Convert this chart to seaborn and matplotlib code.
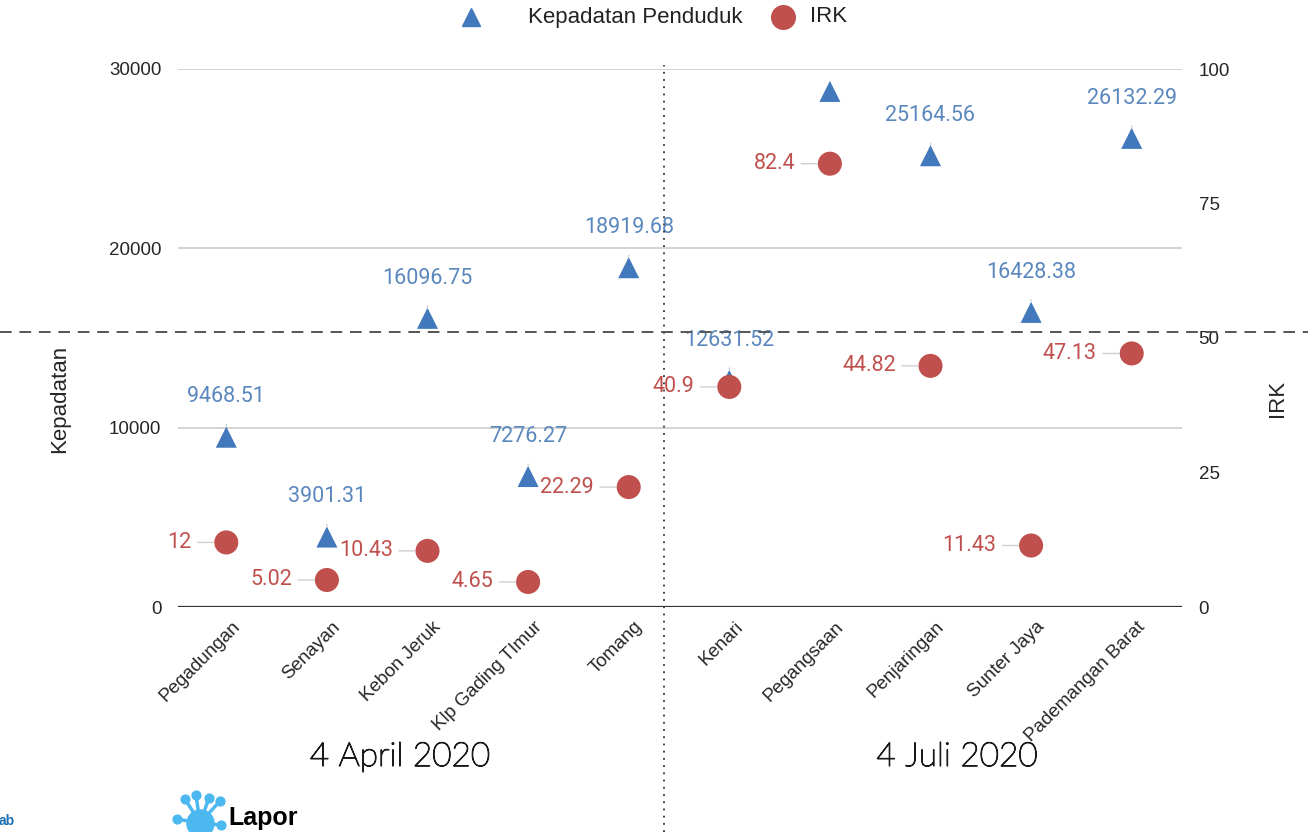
import matplotlib.pyplot as plt
import matplotlib.lines as mlines
import matplotlib.transforms as mtrans
import matplotlib.patheffects as pe
import seaborn as sns
import pandas as pd

# data
kelurahan = ['Pegadungan', 'Senayan', 'Kebon Jeruk', 'Klp Gading TImur', 'Tomang',
             'Kenari', 'Pegangsaan', 'Penjaringan', 'Sunter Jaya', 'Pademangan Barat']
kepadatan = [9468.51, 3901.31, 16096.75, 7276.27, 18919.68,
             12631.52, 28750.0, 25164.56, 16428.38, 26132.29]
kepadatan_label = ['9468.51', '3901.31', '16096.75', '7276.27', '18919.68',
                   '12631.52', '', '25164.56', '16428.38', '26132.29']
irk = [12, 5.02, 10.43, 4.65, 22.29, 40.9, 82.4, 44.82, 11.43, 47.13]
irk_label = ['12', '5.02', '10.43', '4.65', '22.29', '40.9', '82.4', '44.82', '11.43', '47.13']
left_ticks = [0, 10000, 20000, 30000]
right_ticks = [0, 25, 50, 75, 100]

BLUE = '#4279bd'
BLUE_TXT = '#5a87bd'
RED = '#c0504d'
RED_TXT = '#c0504d'

sns.set_style('white')
plt.rcParams['font.family'] = ['Liberation Sans', 'DejaVu Sans']

df = pd.DataFrame({'kelurahan': kelurahan, 'pos': range(len(kelurahan)),
                   'kepadatan': kepadatan, 'irk': irk})

fig = plt.figure(figsize=(13.08, 8.32), dpi=100)
ax = fig.add_axes([178 / 1308, 1 - 607 / 832, 1004 / 1308, 538 / 832])
ax2 = ax.twinx()

sns.scatterplot(data=df, x='pos', y='kepadatan', marker='^', s=230, color=BLUE,
                edgecolor='none', ax=ax, zorder=3, legend=False)
sns.scatterplot(data=df, x='pos', y='irk', marker='o', s=300, color=RED,
                edgecolor='none', ax=ax2, zorder=3, legend=False)

ax.set_xlim(-0.48, 9.5)
ax.set_ylim(0, 30000)
ax2.set_ylim(0, 100)
ax.set_yticks(left_ticks)
ax.set_yticklabels([str(t) for t in left_ticks], fontsize=13.5)
ax2.set_yticks(right_ticks)
ax2.set_yticklabels([str(t) for t in right_ticks], fontsize=13.5)
ax.yaxis.grid(True, color='#cccccc', lw=1.2)
ax.set_axisbelow(True)
ax.tick_params(axis='y', length=0, pad=12)
ax2.tick_params(axis='y', length=0, pad=12)
for a in (ax, ax2):
    for s in a.spines.values():
        s.set_visible(False)
ax.axhline(0, color='#333333', lw=1.6, zorder=2)

ax.set_xticks(range(len(kelurahan)))
ax.set_xticklabels(kelurahan, rotation=45, ha='right', rotation_mode='anchor', fontsize=13.5)
ax.tick_params(axis='x', length=0, pad=8)
shift = mtrans.ScaledTranslation(5 / 100, 0, fig.dpi_scale_trans)
for lbl in ax.get_xticklabels():
    lbl.set_transform(lbl.get_transform() + shift)

ax.set_xlabel('')
ax.set_ylabel('Kepadatan', fontsize=16)
ax.yaxis.set_label_coords(-0.1076, 0.387)
ax2.set_ylabel('IRK', fontsize=16)
ax2.yaxis.set_label_coords(1.0846, 0.387)

lab_font = ['Roboto', 'DejaVu Sans']
for i, (v, t) in enumerate(zip(kepadatan, kepadatan_label)):
    if not t:
        continue
    ax.annotate(t, (i, v), xytext=(0, 29), textcoords='offset points',
                ha='center', va='center', fontsize=15.5, color=BLUE_TXT, family=lab_font,
                arrowprops=dict(arrowstyle='-', color='#d0d0d0', lw=1,
                                shrinkA=10, shrinkB=8), zorder=4)
for i, (v, t) in enumerate(zip(irk, irk_label)):
    ax2.annotate(t, (i, v), xytext=(-25, 0), textcoords='offset points',
                 ha='right', va='center', fontsize=15.5, color=RED_TXT, family=lab_font,
                 arrowprops=dict(arrowstyle='-', color='#d0d0d0', lw=1,
                                 shrinkA=2, shrinkB=9), zorder=4)

# legend at top, placed by hand
ly = 1 - 17 / 832
fig.add_artist(mlines.Line2D([471 / 1308], [ly], marker='^', color=BLUE, ls='none', markersize=13))
fig.text(528 / 1308, ly, 'Kepadatan Penduduk', ha='left', va='center', fontsize=16, color='#222222')
fig.add_artist(mlines.Line2D([783 / 1308], [ly], marker='o', color=RED, ls='none', markersize=17))
fig.text(810 / 1308, ly, 'IRK', ha='left', va='center', fontsize=16, color='#222222')

# overlay guide lines
fig.add_artist(mlines.Line2D([664 / 1308, 664 / 1308], [0, 1 - 65 / 832],
                             color='#333333', lw=1.3, ls=(0, (1, 3))))
fig.add_artist(mlines.Line2D([0, 1], [1 - 332 / 832, 1 - 332 / 832],
                             color='#555555', lw=1.4, ls=(0, (6, 4))))

# period captions (thin font, slightly thickened so it reads dark)
thin = [pe.withStroke(linewidth=0.9, foreground='#1a1a1a')]
for xpix, txt in [(400, '4 April 2020'), (957, '4 Juli 2020')]:
    fig.text(xpix / 1308, 1 - 757 / 832, txt, ha='center', va='center',
             fontsize=24, family=['Lato', 'DejaVu Sans'], fontweight='light',
             color='#1a1a1a', path_effects=thin)

# logo bits at bottom left
fig.text(-0.001, 1 - 821 / 832, 'ab', ha='left', va='center', fontsize=10,
         fontweight='bold', color='#1a6fb5')
logo = fig.add_axes([165 / 1308, 0, 70 / 1308, 45 / 832])
logo.set_xlim(0, 70)
logo.set_ylim(45, 0)
logo.axis('off')
lb = '#4cb8f0'
hub = (35, 36)
for (x, y) in [(20, 12), (31, 8), (44, 11), (55, 14), (12, 32), (56, 38)]:
    logo.plot([hub[0], x], [hub[1], y], color=lb, lw=2.5)
    logo.scatter([x], [y], s=40, color=lb, zorder=3)
logo.scatter([hub[0]], [hub[1]], s=380, color=lb, zorder=3)
fig.text(228 / 1308, 1 - 818 / 832, 'Lapor', ha='left', va='center', fontsize=18,
         fontweight='bold', color='black')

fig.savefig('out.png', dpi=100)
